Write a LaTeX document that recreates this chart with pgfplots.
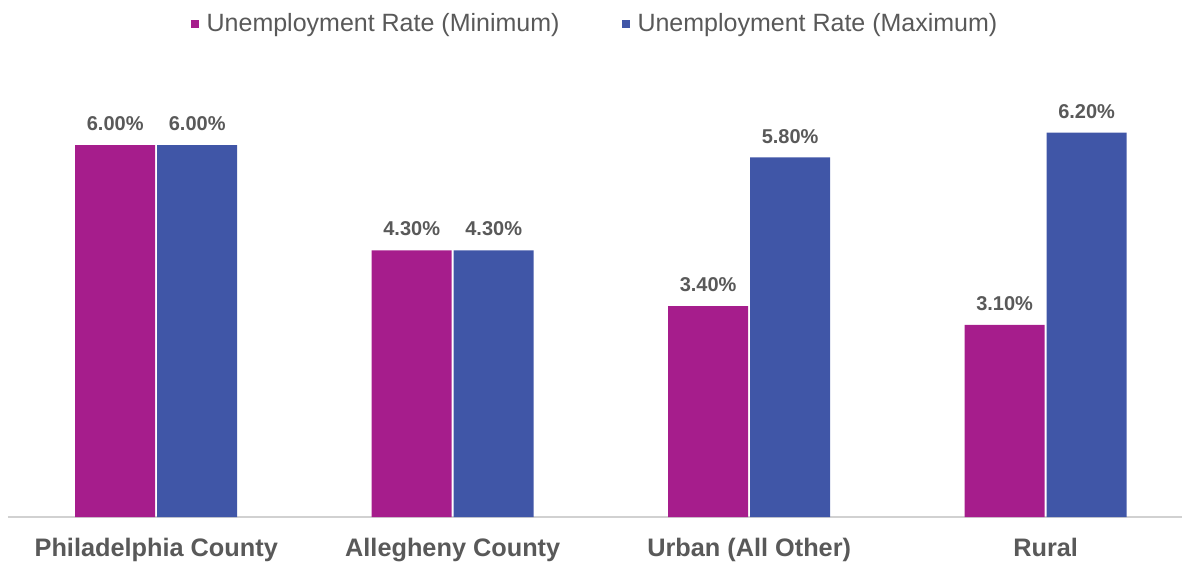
\documentclass[border=0pt]{standalone}
\usepackage{pgfplots}
\pgfplotsset{compat=1.18}
\usepackage{fontspec}
\setmainfont{Liberation Sans}
\definecolor{cmin}{HTML}{A61D8C}
\definecolor{cmax}{HTML}{4056A7}
\definecolor{txt}{HTML}{595959}
\begin{document}
\begin{tikzpicture}
\path[use as bounding box] (0,0) rectangle (1182pt,563pt);
\begin{axis}[
 at={(8pt,46pt)}, anchor=south west,
 scale only axis, width=1174pt, height=434pt,
 ymin=0, ymax=7, xmin=-0.5, xmax=3.46,
 axis y line=none, axis x line*=bottom,
 x axis line style={draw=black!18, line width=1.5pt},
 xtick=data, xticklabels={Philadelphia County, Allegheny County, Urban (All Other), Rural},
 major tick length=0pt,
 xticklabel style={font=\fontsize{25.3}{30}\selectfont\bfseries, text=txt, inner sep=0pt, yshift=-21pt},
 ybar, bar width=80pt,
 nodes near coords={\pgfmathprintnumber[fixed, fixed zerofill, precision=2, assume math mode=true]{\pgfplotspointmeta}\%},
 nodes near coords style={font=\fontsize{20}{24}\selectfont\bfseries, text=txt, inner sep=0pt, anchor=south, yshift=14pt},
 legend columns=2,
 legend style={at={(0.5,1.137)}, anchor=center, draw=none, font=\fontsize{25}{30}\selectfont, text=txt,
   /tikz/every odd column/.append style={column sep=6pt},
   /tikz/every even column/.append style={column sep=60pt}},
 legend image code/.code={\fill[#1] (0pt,-4pt) rectangle (8pt,4pt);},
]
\addplot[fill=cmin, draw=none, bar shift=-41pt] coordinates {(0,6.0) (1,4.3) (2,3.4) (3,3.1)};
\addplot[fill=cmax, draw=none, bar shift=41pt] coordinates {(0,6.0) (1,4.3) (2,5.8) (3,6.2)};
\legend{Unemployment Rate (Minimum), Unemployment Rate (Maximum)}
\end{axis}
\end{tikzpicture}
\end{document}
